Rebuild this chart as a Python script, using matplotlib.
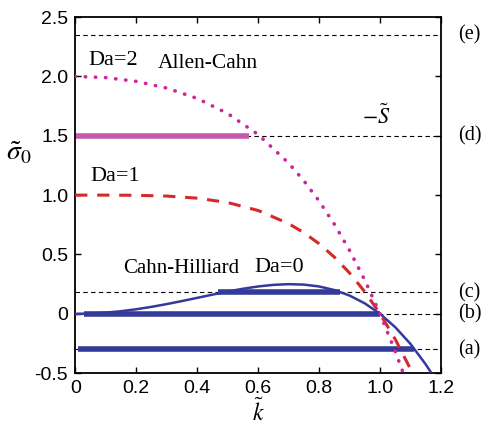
import numpy as np
import matplotlib
matplotlib.use("Agg")
import matplotlib.pyplot as plt

plt.rcParams["font.family"] = ["Liberation Sans", "DejaVu Sans"]
plt.rcParams["mathtext.fontset"] = "stix"

# growth-rate curves
k_da0 = [0, 0.05, 0.1, 0.15, 0.2, 0.25, 0.3, 0.35, 0.4, 0.45, 0.5, 0.55, 0.6, 0.65,
         0.7, 0.75, 0.8, 0.85, 0.9, 0.95, 1.0, 1.05, 1.1, 1.15, 1.17]
s_da0 = [0, 0.0025, 0.0099, 0.022, 0.0384, 0.0586, 0.0819, 0.1075, 0.1344, 0.1615,
         0.1875, 0.211, 0.2304, 0.244, 0.2499, 0.2461, 0.2304, 0.2005, 0.1539, 0.088,
         0, -0.113, -0.2541, -0.4265, -0.505]

k_da1 = [0, 0.1, 0.2, 0.3, 0.4, 0.5, 0.6, 0.7, 0.75, 0.8, 0.85, 0.9, 0.95, 1.0, 1.05, 1.105]
s_da1 = [1.0, 0.9999, 0.9984, 0.9919, 0.9744, 0.9375, 0.8704, 0.7599, 0.6836, 0.5904,
         0.478, 0.3439, 0.1855, 0, -0.2155, -0.491]

k_da2 = [0, 0.1, 0.2, 0.3, 0.4, 0.5, 0.6, 0.7, 0.75, 0.8, 0.85, 0.9, 0.95, 1.0, 1.05, 1.075]
s_da2 = [2.0, 1.9899, 1.9584, 1.9019, 1.8144, 1.6875, 1.5104, 1.2699, 1.1211, 0.9504,
         0.7555, 0.5339, 0.283, 0, -0.318, -0.491]

# reference levels (a)-(e)
levels = [-0.3, 0.0, 0.18, 1.5, 2.35]
level_names = ["(a)", "(b)", "(c)", "(d)", "(e)"]

# unstable bands: (level, k_start, k_end)
blue_bands = [(-0.3, 0.01, 1.11), (0.0, 0.03, 1.0), (0.18, 0.47, 0.87)]
pink_band = (1.5, 0.0, 0.57)

blue = "#333a99"
red = "#d42a2a"
magenta = "#d0249b"
pink = "#c55aae"

fig = plt.figure(figsize=(4.82, 4.26), dpi=100)
ax = fig.add_axes([0.156, 0.124, 0.759, 0.836])

for y in levels:
    ax.plot([0, 1.2], [y, y], color="black", lw=0.8, ls=(0, (4, 3)), zorder=1)

for y, k0, k1 in blue_bands:
    ax.plot([k0, k1], [y, y], color=blue, lw=4.0, solid_capstyle="butt", zorder=2)
ax.plot([pink_band[1], pink_band[2]], [pink_band[0]] * 2, color=pink, lw=4.0,
        solid_capstyle="butt", zorder=2)

ax.plot(k_da0, s_da0, color=blue, lw=1.8, zorder=3)
ax.plot(k_da1, s_da1, color=red, lw=2.2, ls=(0, (4.0, 3.2)), zorder=3)
ax.plot(k_da2, s_da2, color=magenta, lw=2.6, ls=(0, (0.1, 2.7)),
        dash_capstyle="round", zorder=3)

ax.set_xlim(0, 1.2)
ax.set_ylim(-0.5, 2.5)
ax.set_xticks([0, 0.2, 0.4, 0.6, 0.8, 1.0, 1.2])
ax.set_xticklabels(["0", "0.2", "0.4", "0.6", "0.8", "1.0", "1.2"])
ax.set_yticks([-0.5, 0, 0.5, 1.0, 1.5, 2.0, 2.5])
ax.set_yticklabels(["-0.5", "0", "0.5", "1.0", "1.5", "2.0", "2.5"])
ax.tick_params(direction="in", length=4, width=1, top=True, right=True,
               labelsize=14, pad=5)
for sp in ax.spines.values():
    sp.set_linewidth(1.3)

ax.set_xlabel(r"$\tilde{k}$", fontsize=17, labelpad=1)
ax.set_ylabel(r"$\tilde{\sigma}_0$", fontsize=20, rotation=0)
ax.yaxis.set_label_coords(-0.155, 0.58)

serif = ["Liberation Serif", "DejaVu Serif"]
ax.text(0.043, 2.13, "Da=2", family=serif, fontsize=16, va="center")
ax.text(0.27, 2.11, "Allen-Cahn", family=serif, fontsize=15.5, va="center")
ax.text(0.05, 1.16, "Da=1", family=serif, fontsize=16, va="center")
ax.text(0.157, 0.38, "Cahn-Hilliard", family=serif, fontsize=15, va="center")
ax.text(0.587, 0.39, "Da=0", family=serif, fontsize=16, va="center")
ax.text(0.94, 1.66, r"$-\tilde{S}$", fontsize=16, va="center")

for y, name in zip(levels, level_names):
    ax.text(1.255, y, name, family=serif, fontsize=14.5, va="center", clip_on=False)

fig.savefig("out.png", dpi=100)
plt.close(fig)
